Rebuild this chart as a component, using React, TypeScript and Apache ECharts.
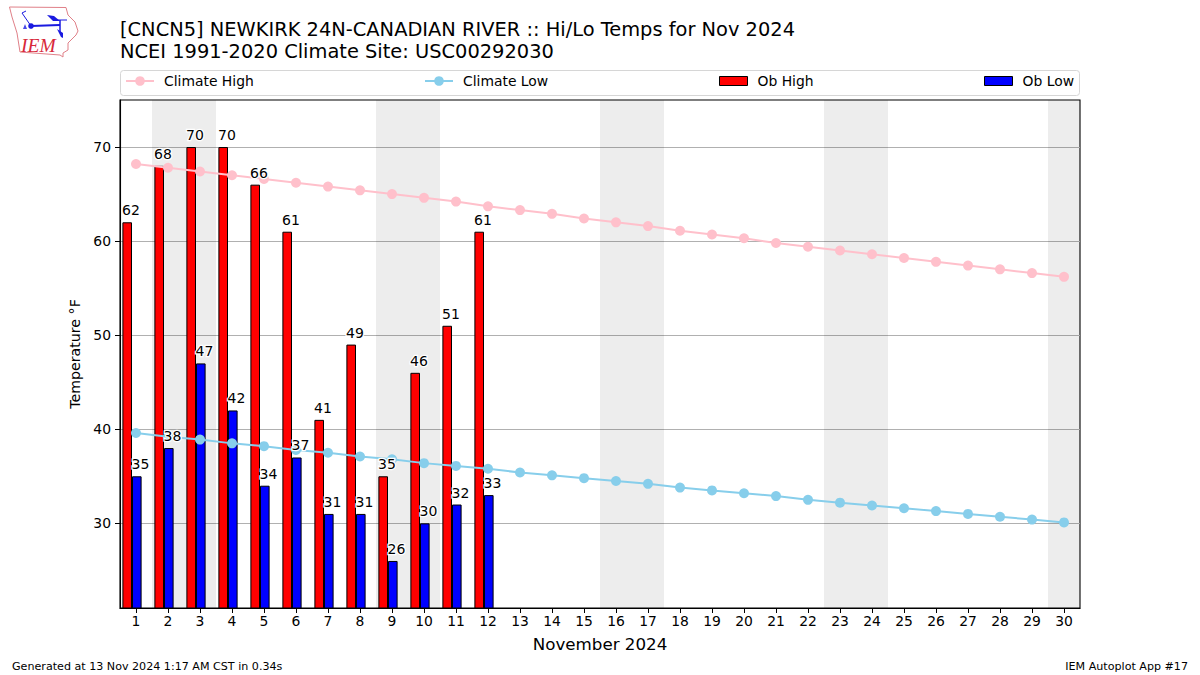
import React, { useEffect, useRef } from "react";
import * as echarts from "echarts";

const days = Array.from({ length: 30 }, (_, i) => String(i + 1));
const climateHigh = [68.2, 67.8, 67.4, 67.0, 66.6, 66.2, 65.8, 65.4, 65.0, 64.6, 64.2, 63.7, 63.3, 62.9, 62.4, 62.0, 61.6, 61.1, 60.7, 60.3, 59.8, 59.4, 59.0, 58.6, 58.2, 57.8, 57.4, 57.0, 56.6, 56.2];
const climateLow = [39.6, 39.2, 38.9, 38.5, 38.2, 37.8, 37.5, 37.1, 36.8, 36.4, 36.1, 35.8, 35.4, 35.1, 34.8, 34.5, 34.2, 33.8, 33.5, 33.2, 32.9, 32.5, 32.2, 31.9, 31.6, 31.3, 31.0, 30.7, 30.4, 30.1];
const obHigh = [62, 68, 70, 70, 66, 61, 41, 49, 35, 46, 51, 61];
const obLow = [35, 38, 47, 42, 34, 37, 31, 31, 26, 30, 32, 33];
const weekendDays = [2, 3, 9, 10, 16, 17, 23, 24, 30];
const yTicks = [30, 40, 50, 60, 70];

const FONT = "DejaVu Sans";

export default function App() {
  const ref = useRef<HTMLDivElement>(null);
  useEffect(() => {
    const chart = echarts.init(ref.current!, null, { renderer: "svg" });
    const labelBase = {
      show: true,
      color: "#000",
      opacity: 1,
      fontFamily: FONT,
      fontSize: 14,
      align: "left" as const,
      textBorderColor: "#fff",
      textBorderWidth: 2.5,
    };
    const legendBase = {
      top: 74,
      itemWidth: 28,
      itemHeight: 12,
      itemGap: 0,
      padding: 0,
      textStyle: { fontFamily: FONT, fontSize: 13.9, color: "#000", padding: [0, 0, 0, 5] },
    };
    const barLegendBase = { ...legendBase, itemHeight: 9, itemStyle: { borderWidth: 1, borderColor: "#000" } };
    chart.setOption({
      animation: false,
      backgroundColor: "#fff",
      title: {
        text: "[CNCN5] NEWKIRK 24N-CANADIAN RIVER :: Hi/Lo Temps for Nov 2024\nNCEI 1991-2020 Climate Site: USC00292030",
        left: 120,
        top: 18,
        padding: 0,
        textStyle: { fontFamily: FONT, fontSize: 19.42, fontWeight: "normal", color: "#000", lineHeight: 22 },
      },
      grid: { left: 120, right: 120, top: 100, bottom: 67, show: true, borderColor: "#000", borderWidth: 1.1, backgroundColor: "#fff" },
      legend: [
        { ...legendBase, left: 125, data: ["Climate High"] },
        { ...legendBase, left: 424, data: ["Climate Low"] },
        { ...barLegendBase, left: 719, data: [{ name: "Ob High", icon: "rect" }] },
        { ...barLegendBase, left: 984, data: [{ name: "Ob Low", icon: "rect" }] },
      ],
      xAxis: {
        type: "category",
        data: days,
        boundaryGap: true,
        name: "November 2024",
        nameLocation: "middle",
        nameGap: 27,
        nameTextStyle: { fontFamily: FONT, fontSize: 16.7, color: "#000" },
        axisLine: { show: true, lineStyle: { color: "#000", width: 1.1 } },
        axisTick: { show: true, alignWithLabel: true, length: 5, lineStyle: { color: "#000", width: 1 } },
        axisLabel: { interval: 0, fontFamily: FONT, fontSize: 13.9, color: "#000", margin: 6 },
        splitLine: { show: false },
      },
      yAxis: {
        type: "value",
        min: 21,
        max: 75,
        interval: 10,
        name: "Temperature \u00B0F",
        nameLocation: "middle",
        nameGap: 37,
        nameTextStyle: { fontFamily: FONT, fontSize: 14.2, color: "#000" },
        axisLine: { show: true, lineStyle: { color: "#000", width: 1.1 } },
        axisTick: { show: true, length: 5, lineStyle: { color: "#000", width: 1 }, customValues: yTicks },
        axisLabel: { fontFamily: FONT, fontSize: 13.9, color: "#000", margin: 9, customValues: yTicks },
        splitLine: { show: true, lineStyle: { color: "#b0b0b0", width: 1 } },
      },
      graphic: [
        { type: "rect", shape: { x: 120.5, y: 70.5, width: 959, height: 25, r: 3 }, style: { fill: "#fff", stroke: "#d6d6d6", lineWidth: 1 }, z: -1 },
        { type: "polygon", shape: { points: [[9.5, 7], [66, 7.5], [68, 15], [75, 22], [78, 31], [76, 35], [71, 40], [68, 43], [68, 50], [63, 53], [63, 57], [60, 55], [20, 52], [17, 33], [12, 17]] }, style: { fill: "#fff", stroke: "#e08088", lineWidth: 1 } },
        { type: "polyline", shape: { points: [[31, 26], [60, 25]] }, style: { stroke: "#1a1ae0", fill: "none", lineWidth: 2 } },
        { type: "polyline", shape: { points: [[60, 20], [60, 32]] }, style: { stroke: "#1a1ae0", fill: "none", lineWidth: 1.5 } },
        { type: "polyline", shape: { points: [[54, 20], [67, 20]] }, style: { stroke: "#1a1ae0", fill: "none", lineWidth: 1 } },
        { type: "polyline", shape: { points: [[22, 13], [31, 26]] }, style: { stroke: "#1a1ae0", fill: "none", lineWidth: 1 } },
        { type: "polyline", shape: { points: [[22, 13], [26, 11]] }, style: { stroke: "#1a1ae0", fill: "none", lineWidth: 1 } },
        { type: "polygon", shape: { points: [[47, 15], [54, 16], [60, 21], [53, 21]] }, style: { fill: "#1a1ae0" } },
        { type: "polygon", shape: { points: [[57, 29], [63, 33], [63, 38], [61, 37]] }, style: { fill: "#1a1ae0" } },
        { type: "circle", shape: { cx: 31, cy: 26, r: 2.8 }, style: { fill: "#1a1ae0" } },
        { type: "polygon", shape: { points: [[25, 24], [27, 29], [23, 29]] }, style: { fill: "#4a4ae8" } },
        { type: "text", x: 21, y: 35, style: { text: "IEM", fontFamily: "Liberation Serif", fontStyle: "italic", fontSize: 19.5, fill: "#d8283a" } },
        { type: "text", x: 12, y: 660.5, style: { text: "Generated at 13 Nov 2024 1:17 AM CST in 0.34s", fontFamily: FONT, fontSize: 11.12, fill: "#000" } },
        { type: "text", x: 1188, y: 660.5, style: { text: "IEM Autoplot App #17", align: "right", fontFamily: FONT, fontSize: 11.12, fill: "#000" } },
      ],
      series: [
        {
          type: "custom",
          name: "Weekend",
          silent: true,
          z: 1,
          coordinateSystem: "cartesian2d",
          data: weekendDays.map((d) => [String(d)]),
          encode: { x: 0 },
          clip: true,
          renderItem: (_p: any, api: any) => {
            const c = api.coord([api.value(0), 75]);
            const b = api.coord([api.value(0), 21]);
            const w = api.size([1, 0])[0];
            return {
              type: "rect",
              shape: { x: c[0] - w / 2, y: c[1], width: w, height: b[1] - c[1] },
              style: { fill: "rgba(0,0,0,0.07)" },
            };
          },
        },
        {
          type: "bar",
          name: "Ob High",
          z: 2,
          barWidth: 9.6,
          barGap: "0%",
          data: obHigh,
          itemStyle: { color: "#ff0000", borderColor: "#000", borderWidth: 1 },
        },
        {
          type: "bar",
          name: "Ob Low",
          z: 2,
          barWidth: 9.6,
          barGap: "0%",
          data: obLow,
          itemStyle: { color: "#0000ff", borderColor: "#000", borderWidth: 1 },
        },
        {
          type: "bar",
          name: "Spacer",
          z: 2,
          barWidth: 8,
          barGap: "0%",
          data: days.map(() => null),
          itemStyle: { color: "transparent" },
        },
        {
          type: "line",
          name: "Climate High",
          z: 3,
          data: climateHigh,
          symbol: "circle",
          symbolSize: 10,
          lineStyle: { color: "#ffc0cb", width: 2 },
          itemStyle: { color: "#ffc0cb" },
        },
        {
          type: "line",
          name: "Climate Low",
          z: 3,
          data: climateLow,
          symbol: "circle",
          symbolSize: 10,
          lineStyle: { color: "#87ceeb", width: 2 },
          itemStyle: { color: "#87ceeb" },
        },
        {
          type: "scatter",
          name: "High labels",
          z: 5,
          silent: true,
          symbolSize: 0,
          itemStyle: { opacity: 1 },
          data: obHigh,
          label: { ...labelBase, position: [-14, -19] },
        },
        {
          type: "scatter",
          name: "Low labels",
          z: 5,
          silent: true,
          symbolSize: 0,
          itemStyle: { opacity: 1 },
          data: obLow,
          label: { ...labelBase, position: [-4.5, -19] },
        },
      ],
    });
    return () => chart.dispose();
  }, []);
  return <div ref={ref} style={{ position: "absolute", left: 0, top: 0, width: 1200, height: 675 }} />;
}
